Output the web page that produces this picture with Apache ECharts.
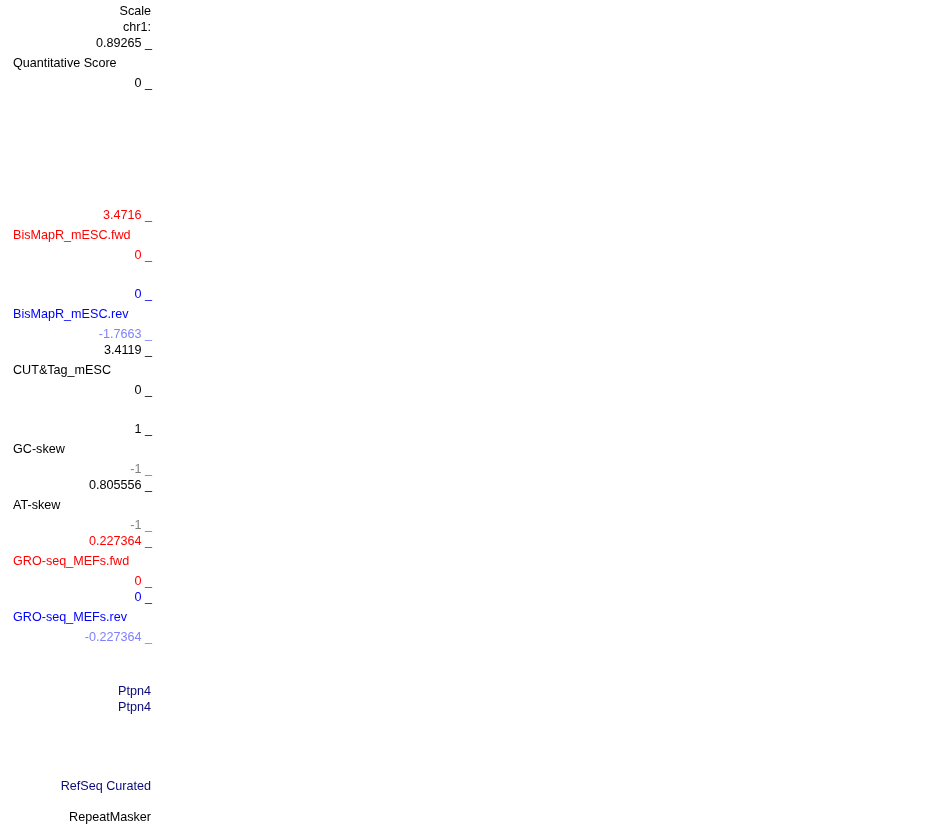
<!DOCTYPE html>
<html><head><meta charset="utf-8">
<script src="https://cdn.jsdelivr.net/npm/echarts@6/dist/echarts.min.js"></script>
<style>html,body{margin:0;padding:0;background:#fff}#c{width:950px;height:825px}</style>
</head><body><div id="c"></div>
<script>
// ---- data ----
const headerLabels = ["Scale", "chr1:"];
const trackNames = ["Quantitative Score", "BisMapR_mESC.fwd", "BisMapR_mESC.rev", "CUT&Tag_mESC",
                    "GC-skew", "AT-skew", "GRO-seq_MEFs.fwd", "GRO-seq_MEFs.rev"];
const trackMax = ["0.89265", "3.4716", "0", "3.4119", "1", "0.805556", "0.227364", "0"];
const trackMin = ["0", "0", "-1.7663", "0", "-1", "-1", "0", "-0.227364"];
const geneLabels = ["Ptpn4", "Ptpn4"];
const footerLabels = ["RefSeq Curated", "RepeatMasker"];

// ---- layout / style ----
const headerY = [10, 26];
const trackTopY = [42, 214, 293, 349, 428, 484, 540, 596];
const trackColor = ["#000000", "#ff0000", "#0000ff", "#000000", "#000000", "#000000", "#ff0000", "#0000ff"];
const trackMinColor = ["#000000", "#ff0000", "#8080ff", "#000000", "#808080", "#808080", "#ff0000", "#8080ff"];
const geneY = [690, 706];
const footerY = [785, 816];
const footerColor = ["#0c0c78", "#000000"];
const geneColor = "#0c0c78";
const RIGHT = 152, LEFT = 13, DY = 2;
const FONT = "12.6px 'Liberation Sans', Arial, sans-serif";

function txt(text, x, y, color, align) {
  return { type: 'text', x: x, y: y + DY, silent: true,
    style: { text: text, fill: color, font: FONT, textAlign: align, textVerticalAlign: 'middle' } };
}
const els = [];
headerLabels.forEach((t, i) => els.push(txt(t, RIGHT - 1, headerY[i], '#000', 'right')));
trackNames.forEach((name, i) => {
  const y = trackTopY[i];
  els.push(txt(trackMax[i] + ' _', RIGHT, y, trackColor[i], 'right'));
  els.push(txt(name, LEFT, y + 20, trackColor[i], 'left'));
  els.push(txt(trackMin[i] + ' _', RIGHT, y + 40, trackMinColor[i], 'right'));
});
geneLabels.forEach((t, i) => els.push(txt(t, RIGHT - 1, geneY[i], geneColor, 'right')));
footerLabels.forEach((t, i) => els.push(txt(t, RIGHT - 1, footerY[i], footerColor[i], 'right')));

const chart = echarts.init(document.getElementById('c'), null, { renderer: 'canvas' });
chart.setOption({ animation: false, backgroundColor: '#ffffff', graphic: { elements: els } });
</script></body></html>
